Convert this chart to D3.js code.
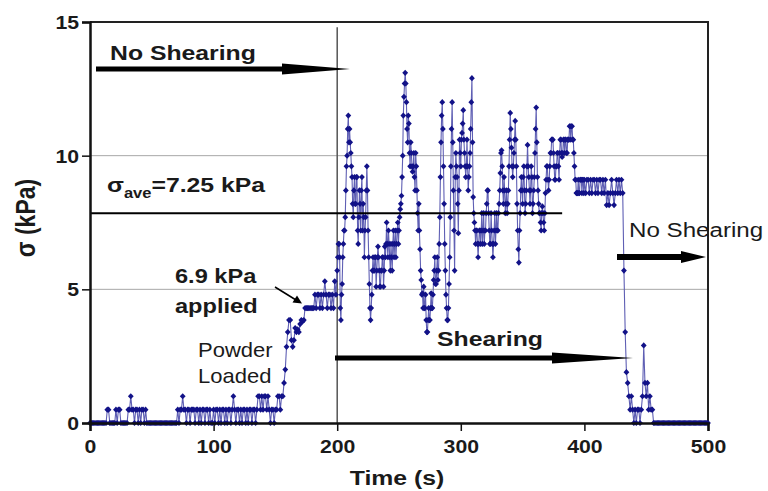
<!DOCTYPE html>
<html><head><meta charset="utf-8">
<script src="https://cdn.jsdelivr.net/npm/d3@7"></script>
<style>body{margin:0;background:#fff}</style>
</head><body><svg id="c" width="768" height="491"></svg>
<script>
// sigma (kPa) sampled every 1 s, t = 0..500
const seg0=[0,0,0,0,0,0,0,0,0,0,
 0,0,0,0,0.5,0.5,0,0,0,0,
 0,0.5,0,0.5,0.5,0,0,0,0,0,
 0,0.5,0.5,1,0.5,0.5,0,0.5,0.5,0,
 0.5,0,0.5,0.5,0,0.5,0,0,0,0,
 0,0,0,0,0,0,0,0,0,0,
 0,0,0,0,0,0,0,0,0,0,
 0,0.5,0,0.5,0.5,1,0.5,0.5,0,0.5,
 0.5,0,0.5,0.5,0.5,0,0.5,0.5,0,0.5,
 0,0.5,0.5,0,0.5,0.5,0,0.5,0,0];
const seg1=[0.5,0,0.5,0.5,0,0.5,0,0.5,0.5,0,
 0.5,0,0.5,0.5,0,0.5,1,0.5,0,0.5,
 0.5,0,0.5,0,0.5,0.5,0,0.5,0,0.5,
 0.5,0,0.5,0.5,0,0.5,1,1,0.5,1,
 0.5,1,1,0.5,1,0.5,0,0.5,0.5,0,
 0.5,0.5,1,1,0.5,1,1,1.5,2,2.85,
 3.4,3.85,3.85,3.1,2.85,3.1,3.55,3.4,3.5,3.4,
 3.7,3.85,3.8,3.85,4.3,4.3,4.3,4.3,4.3,4.3,
 4.3,4.3,4.8,4.3,4.8,4.8,4.3,4.8,4.3,4.8,
 5.3,4.8,4.3,4.8,4.8,4.3,4.8,4.3,5.3,4.8];
const seg2=[5.7,6.7,6.2,3.85,5.2,6.7,7.2,8.7,10.0,11.5,
 11.0,10.1,9.2,7.7,9.2,8.2,9.2,6.7,8.7,7.2,
 9.2,8.2,6.2,7.7,9.6,7.2,5.2,3.85,4.8,6.2,
 5.7,6.2,5.7,6.6,5.7,5.1,5.7,6.2,5.7,6.2,
 7.5,6.2,6.7,5.7,6.2,6.7,6.2,7.2,6.7,7.5,
 7.2,8.0,8.5,10.0,12.2,13.1,12.0,10.5,11.2,9.6,
 10.1,9.4,10.1,8.7,9.6,7.85,8.2,6.5,5.35,4.85,
 5.1,4.3,3.85,3.4,4.3,3.85,4.85,4.3,5.35,6.2,
 5.2,6.2,5.7,7.7,10.5,12.0,9.6,6.7,4.8,3.85,
 4.3,6.2,9.6,12.0,8.7,5.7,10.1,9.2,7.1,10.6];
// extra readings at t + 0.5 s (t = 200.5 .. 299.5)
const seg2half=[6.2,6.7,4.3,4.8,6.2,7.2,7.7,9.6,11.0,10.5,
 10.5,9.6,8.2,8.7,8.2,9.2,7.2,7.7,8.2,8.7,
 7.2,7.7,7.2,8.7,8.7,6.2,4.3,4.3,5.7,5.7,
 6.2,5.1,6.2,6.2,5.1,5.7,6.2,5.1,6.6,6.7,
 6.7,7.2,6.2,6.7,5.7,7.2,6.7,6.2,7.2,6.7,
 7.7,8.2,9.2,11.5,12.7,12.7,11.0,11.5,10.1,10.5,
 9.6,9.6,9.2,10.1,8.7,7.2,7.2,5.7,4.8,4.3,
 4.3,4.8,3.4,3.85,3.85,4.3,4.3,4.8,5.7,5.2,
 5.7,5.35,6.7,9.2,11.5,11.0,8.2,5.7,4.3,3.85,
 5.2,7.7,11.0,10.5,7.2,9.2,9.6,8.2,8.7,10.1];
const seg3=[9.6,10.85,11.7,10.1,9.2,10.6,8.7,9.6,11.0,12.9,
 8.45,7.5,6.7,7.2,6.2,7.2,6.7,7.85,7.2,6.7,
 7.2,8.2,8.7,7.2,6.7,7.2,6.2,7.2,6.7,7.85,
 7.2,8.2,9.35,10.2,8.7,9.2,7.85,8.7,8.2,9.6,
 11.6,10.3,9.2,10.1,11.3,9.6,7.2,6.0,7.85,9.2,
 8.2,9.6,7.85,8.7,10.4,9.2,8.2,9.6,7.85,8.7,
 10.1,11.8,9.2,8.2,7.85,7.2,8.1,7.5,7.85,9.1,
 9.6,8.7,9.6,10.1,10.6,10.1,9.1,9.6,10.1,9.6,
 10.1,10.6,9.95,10.6,10.1,10.6,10.1,10.6,11.1,10.6,
 11.1,10.6,9.6,9.1,8.6,9.1,8.6,9.1,8.6,9.1];
// extra readings at t + 0.5 s (t = 300.5 .. 399.5)
const seg3half=[10.6,11.2,10.6,9.6,9.6,9.6,9.2,10.1,12.0,10.5,
 7.85,7.2,7.2,6.7,6.7,7.2,7.2,6.7,7.85,7.2,
 7.85,8.7,7.85,6.7,7.85,6.7,6.7,7.85,7.2,7.2,
 7.85,8.7,10.1,9.6,8.2,8.7,8.2,7.85,8.7,10.6,
 11.0,9.6,9.6,10.6,10.6,8.2,6.5,7.2,8.7,8.7,
 9.2,8.7,8.2,9.6,9.6,8.7,8.7,9.2,8.2,9.2,
 11.0,10.5,8.7,7.85,7.5,7.85,7.85,7.2,8.6,9.6,
 9.1,9.1,10.1,10.6,10.6,9.6,9.1,9.6,10.1,9.1,
 10.6,10.1,10.1,10.6,10.6,10.1,10.6,10.6,11.1,11.1,
 10.6,10.1,9.1,8.6,8.6,8.6,9.1,9.1,9.1,8.6];
const seg4=[9.1,8.6,9.1,9.1,8.6,9.1,8.6,9.1,9.1,8.6,
 9.1,8.6,9.1,9.1,8.6,9.1,8.6,9.1,8.15,8.6,
 8.15,8.6,9.1,8.6,8.15,8.6,9.1,8.6,9.1,8.6,
 9.1,8.6,5.7,3.4,1.9,1.5,1.0,0.5,1.0,0.5,
 0,0.5,0,0.5,0.5,0,0.5,1.0,2.9,1.5,
 1.0,1.5,0.5,1.0,0.5,0.5,0,0,0,0,
 0,0,0,0,0,0,0,0,0,0,
 0,0,0,0,0,0,0,0,0,0,
 0,0,0,0,0,0,0,0,0,0,
 0,0,0,0,0,0,0,0,0,0,0];
const xTicks=[0,100,200,300,400,500];
const yTicks=[0,5,10,15];
const gridValues=[5,10];
const shearStart=200;       // vertical marker
const aveLineValue=7.85;    // drawn level of the sigma_ave line
const aveLineEnd=382;       // s

const whole=[].concat(seg0,seg1,seg2,seg3,seg4).map((v,i)=>({t:i,v:v}));
const halves=seg2half.map((v,i)=>({t:200.5+i,v:v}))
  .concat(seg3half.map((v,i)=>({t:300.5+i,v:v})));
const data=whole.concat(halves).sort((a,b)=>a.t-b.t);

const svg=d3.select('#c');
const FONT='Liberation Sans, Arial, Helvetica, sans-serif';
const x=d3.scaleLinear().domain([0,500]).range([90,708]);
const y=d3.scaleLinear().domain([0,15]).range([423,22]);

// grid
svg.append('g').selectAll('line').data(gridValues).join('line')
  .attr('x1',x(0)).attr('x2',x(500)).attr('y1',d=>y(d)).attr('y2',d=>y(d))
  .attr('stroke','#a8a8a8').attr('stroke-width',1);

// frame top/right
svg.append('path').attr('d',`M${x(0)},${y(15)}H${x(500)}V${y(0)}`)
  .attr('fill','none').attr('stroke','#222').attr('stroke-width',2);

// vertical line at shearing start
svg.append('line').attr('x1',x(shearStart)).attr('x2',x(shearStart))
  .attr('y1',y(14.8)).attr('y2',y(0)).attr('stroke','#555').attr('stroke-width',1.5);

// series
svg.append('path').datum(data)
  .attr('d',d3.line().x(d=>x(d.t)).y(d=>y(d.v)))
  .attr('fill','none').attr('stroke','#5f5fb4').attr('stroke-width',1.1);
svg.append('g').selectAll('path').data(data).join('path')
  .attr('transform',d=>`translate(${x(d.t)},${y(d.v)})`)
  .attr('d','M0,-3.1L2.9,0L0,3.1L-2.9,0Z').attr('fill','#121288');

// average line
svg.append('line').attr('x1',x(0)).attr('x2',x(aveLineEnd))
  .attr('y1',y(aveLineValue)).attr('y2',y(aveLineValue))
  .attr('stroke','#000').attr('stroke-width',2);

// axes
const SX=1.18;
const ya=svg.append('g').attr('transform',`translate(${x(0)},0)`)
  .call(d3.axisLeft(y).tickValues(yTicks).tickSize(8).tickFormat(d3.format('d')));
const xa=svg.append('g').attr('transform',`translate(0,${y(0)})`)
  .call(d3.axisBottom(x).tickValues(xTicks).tickSize(8).tickFormat(d3.format('d')));
[ya,xa].forEach(g=>{
  g.select('.domain').attr('stroke','#111').attr('stroke-width',2.5);
  g.selectAll('.tick line').attr('stroke','#111').attr('stroke-width',1.5);
  g.selectAll('.tick text').attr('font-family',FONT).attr('font-size',18)
    .attr('font-weight','bold').attr('fill','#1a1a1a');
});
ya.selectAll('.tick text').attr('x',null).attr('dy',null)
  .attr('transform',`translate(-11,6.5) scale(${SX},1)`);
xa.selectAll('.tick text').attr('y',null).attr('dy',null)
  .attr('transform',`translate(0,30) scale(${SX},1)`);

function txt(tx,ty,s,size,weight,sx,anchor){
  return svg.append('text').attr('transform',`translate(${tx},${ty}) scale(${sx},1)`)
    .attr('font-family',FONT).attr('font-size',size).attr('font-weight',weight)
    .attr('fill','#1a1a1a').attr('text-anchor',anchor||'start').text(s);
}
function arrow(x0,xh,x1,yc,shaft,head){
  const pts=[[x0,yc-shaft/2],[xh,yc-shaft/2],[xh,yc-head/2],[x1,yc],[xh,yc+head/2],[xh,yc+shaft/2],[x0,yc+shaft/2]];
  svg.append('path').attr('d',d3.line()(pts)+'Z').attr('fill','#000');
}

// axis titles
txt(397,485,'Time (s)',21,'bold',SX,'middle');
svg.append('text').attr('transform',`translate(35,218) rotate(-90) scale(1,${SX})`)
  .attr('font-family',FONT).attr('font-size',23).attr('font-weight','bold')
  .attr('fill','#1a1a1a').attr('text-anchor','middle').text('σ (kPa)');

// annotations
txt(110,60,'No Shearing',21,'bold',SX);
arrow(96,282,350,69,5,11);

const ave=svg.append('text').attr('transform',`translate(107,192) scale(${SX},1)`)
  .attr('font-family',FONT).attr('font-size',21).attr('font-weight','bold').attr('fill','#1a1a1a');
ave.append('tspan').text('σ');
ave.append('tspan').attr('font-size',14).attr('dy',6).text('ave');
ave.append('tspan').attr('dy',-6).text('=7.25 kPa');

txt(175,283,'6.9 kPa',20,'bold',SX);
txt(175,313,'applied',20,'bold',SX);
svg.append('line').attr('x1',275).attr('y1',287).attr('x2',296).attr('y2',300)
  .attr('stroke','#000').attr('stroke-width',1.5);
svg.append('path').attr('d','M302,303.5L292.5,302.5L297,295.5Z').attr('fill','#000');

txt(198,357,'Powder',20,'normal',1.1);
txt(198,383,'Loaded',20,'normal',1.1);

txt(437,346,'Shearing',21,'bold',SX);
arrow(335,552,633,358,5,11);

txt(629,237,'No Shearing',21,'normal',1.15);
arrow(617,681,706,257,6,12);
</script></body></html>
